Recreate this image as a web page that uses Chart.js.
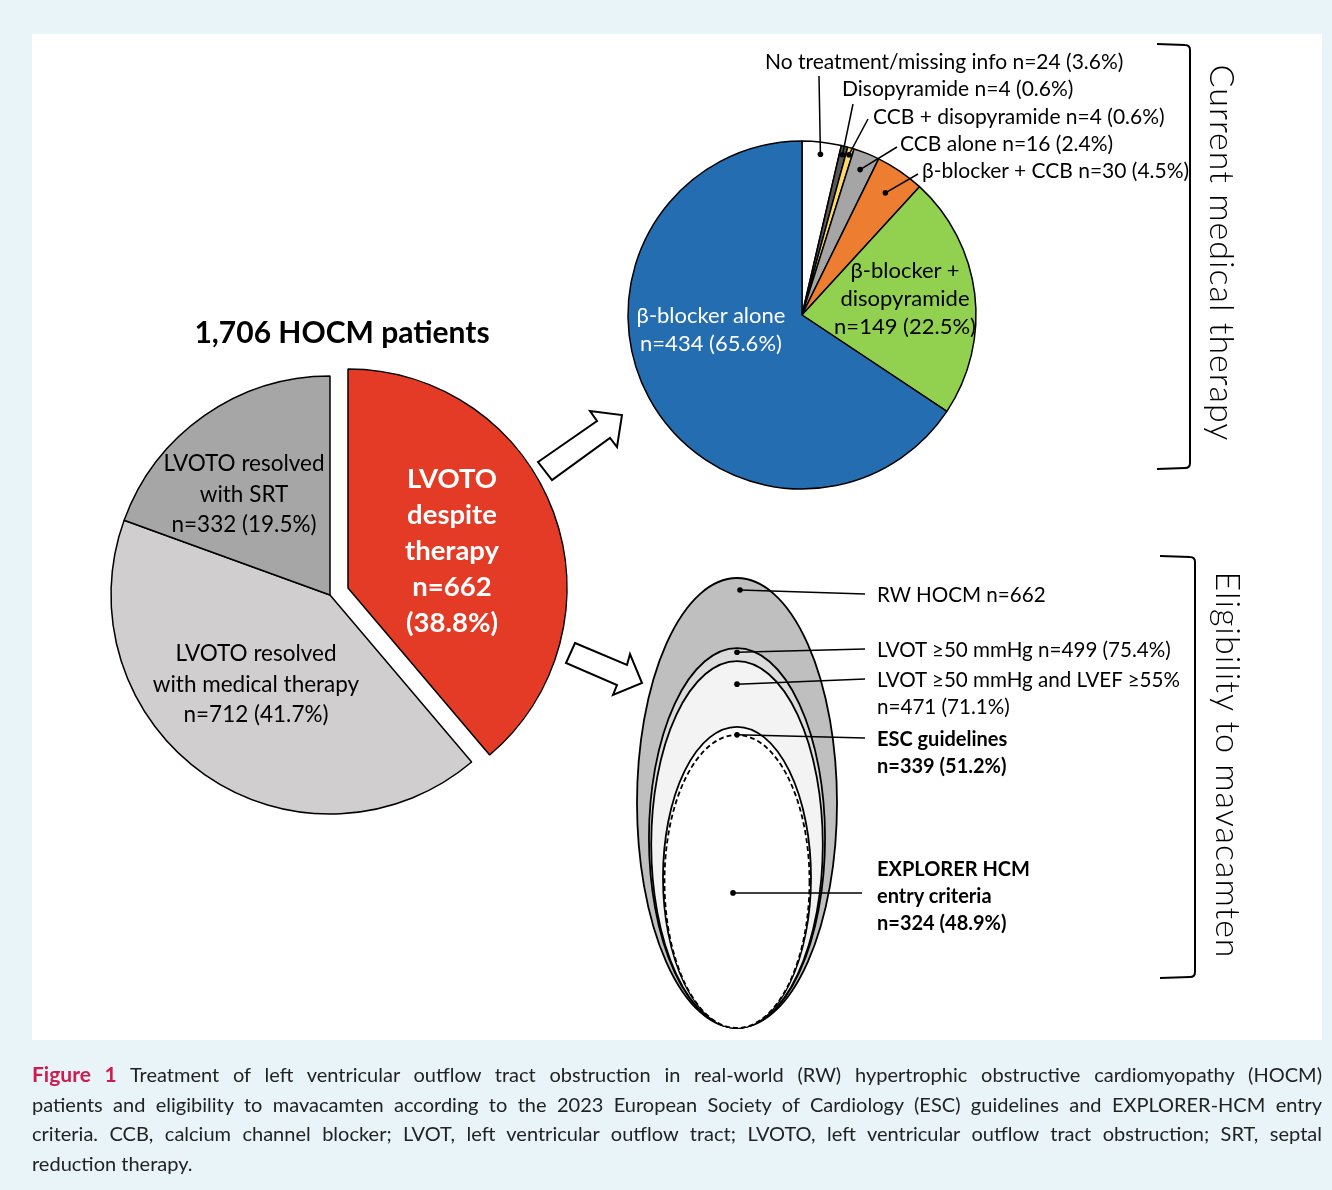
<!DOCTYPE html>
<html>
<head>
<meta charset="utf-8">
<title>HOCM treatment and mavacamten eligibility</title>
<script src="https://cdn.jsdelivr.net/npm/chart.js@4.4.1/dist/chart.umd.min.js"></script>
<style>
  body { margin:0; width:1332px; height:1190px; background:#e8f4f7; position:relative; overflow:hidden; font-family: Lato, "Open Sans", sans-serif; }
  #panel { position:absolute; left:32px; top:34px; width:1290px; height:1006px; background:#fff; }
  .chartBox { position:absolute; }
  .txt { position:absolute; white-space:nowrap; color:#000; font-size:20.6px; line-height:27px; }
  .c { transform:translate(-50%,-50%); text-align:center; }
  .l { transform:translateY(-50%); }
  .b { font-weight:bold; }
  #deco { position:absolute; left:0; top:0; }
  .side { position:absolute; font-size:34px; font-weight:300; letter-spacing:1px; white-space:nowrap; transform:translate(-50%,-50%) rotate(90deg); }
  #caption { position:absolute; left:32px; top:1059px; width:1290px; font-size:20px; line-height:29.5px; color:#222; }
  #caption div { text-align:justify; text-align-last:justify; }
  #caption div.last { text-align-last:left; }
  #caption .fig { color:#cf1b4f; font-weight:bold; font-size:21px; }
</style>
</head>
<body>
<div id="panel"></div>

<div class="chartBox" id="cohortBox" style="left:80px;top:345px;width:500px;height:500px;"><canvas id="cohortPie"></canvas></div>
<div class="chartBox" id="cohortBoxOut" style="left:80px;top:345px;width:500px;height:500px;"><canvas id="cohortPieOut"></canvas></div>
<div class="chartBox" style="left:602px;top:40px;width:400px;height:470px;"><canvas id="therapyPie"></canvas></div>
<div class="chartBox" style="left:617px;top:558px;width:280px;height:490px;"><canvas id="eligChart"></canvas></div>

<svg id="deco" width="1332" height="1190">
  <polygon points="538,462 597,421 590,411 622,415 617,447 610,438 552,480" fill="#fff" stroke="#000" stroke-width="2" stroke-linejoin="miter"/>
  <polygon points="575,643 627,665 630,654 642,683 613,695 617,685 566,663" fill="#fff" stroke="#000" stroke-width="2" stroke-linejoin="miter"/>
  <path d="M1157,44 L1185,45 Q1190,45 1190,50 L1190,463 Q1190,468 1185,468 L1157,469" fill="none" stroke="#000" stroke-width="2"/>
  <path d="M1160,556 L1190,557 Q1195,557 1195,562 L1195,972 Q1195,977 1190,977 L1160,978" fill="none" stroke="#000" stroke-width="2"/>
</svg>

<div class="side" style="left:1223px;top:253px;">Current medical therapy</div>
<div class="side" style="left:1229px;top:765px;">Eligibility to mavacamten</div>

<div id="caption">
  <div><span class="fig">Figure 1</span> Treatment of left ventricular outflow tract obstruction in real-world (RW) hypertrophic obstructive cardiomyopathy (HOCM)</div>
  <div>patients and eligibility to mavacamten according to the 2023 European Society of Cardiology (ESC) guidelines and EXPLORER-HCM entry</div>
  <div>criteria. CCB, calcium channel blocker; LVOT, left ventricular outflow tract; LVOTO, left ventricular outflow tract obstruction; SRT, septal</div>
  <div class="last">reduction therapy.</div>
</div>

<script>
// cohort of 1,706 patients
const cohortLabels = ['LVOTO despite therapy', 'LVOTO resolved with medical therapy', 'LVOTO resolved with SRT'];
const cohortCounts = [662, 712, 332];

// current medical therapy of the 662 with LVOTO
const therapyLabels = ['No treatment/missing info', 'Disopyramide', 'CCB + disopyramide', 'CCB alone', 'β-blocker + CCB', 'β-blocker + disopyramide', 'β-blocker alone'];
const therapyCounts = [24, 4, 4, 16, 30, 149, 434];

// eligibility to mavacamten (nested groups)
const eligLabels = ['RW HOCM', 'LVOT ≥50 mmHg', 'LVOT ≥50 mmHg and LVEF ≥55%', 'ESC guidelines', 'EXPLORER HCM entry criteria'];
const eligCounts = [662, 499, 471, 339, 324];

const cohortTotal = cohortCounts.reduce((a, b) => a + b, 0);
const rwTotal = cohortCounts[0];
function pct(n, tot) { return (n / tot * 100).toFixed(1) + '%'; }
function nTxt(n, tot) { return 'n=' + n + ' (' + pct(n, tot) + ')'; }

function addText(x, y, html, cls, style) {
  const d = document.createElement('div');
  d.className = 'txt ' + cls;
  d.style.left = x + 'px';
  d.style.top = y + 'px';
  d.innerHTML = html;
  if (style) Object.assign(d.style, style);
  document.body.appendChild(d);
}

const pieOpts = (r) => ({
  responsive: true,
  maintainAspectRatio: false,
  animation: false,
  events: [],
  radius: r,
  plugins: { legend: { display: false }, tooltip: { enabled: false } }
});

// ---------- left pie ----------
// grey part drawn in place, red slice drawn in a copy moved out along its mid angle
const cohortColors = ['#e33b25', '#d0cecf', '#a6a6a6'];
const explode = 19;
const redMid = cohortCounts[0] / cohortTotal * Math.PI;
const outBox = document.getElementById('cohortBoxOut');
outBox.style.left = (80 + Math.sin(redMid) * explode) + 'px';
outBox.style.top = (345 - Math.cos(redMid) * explode) + 'px';

new Chart(document.getElementById('cohortPie'), {
  type: 'pie',
  data: {
    labels: cohortLabels,
    datasets: [{
      data: cohortCounts,
      backgroundColor: cohortColors.map((c, i) => i === 0 ? 'rgba(0,0,0,0)' : c),
      borderColor: cohortColors.map((c, i) => i === 0 ? 'rgba(0,0,0,0)' : '#000'),
      borderWidth: 1.5
    }]
  },
  options: pieOpts(219)
});

new Chart(document.getElementById('cohortPieOut'), {
  type: 'pie',
  data: {
    labels: cohortLabels,
    datasets: [{
      data: cohortCounts,
      backgroundColor: cohortColors.map((c, i) => i === 0 ? c : 'rgba(0,0,0,0)'),
      borderColor: cohortColors.map((c, i) => i === 0 ? '#000' : 'rgba(0,0,0,0)'),
      borderWidth: 1.5
    }]
  },
  options: pieOpts(219)
});

addText(342, 331, cohortTotal.toLocaleString('en-US') + ' HOCM patients', 'c b', { fontSize: '30px' });
addText(244, 494, 'LVOTO resolved<br>with SRT<br>' + nTxt(cohortCounts[2], cohortTotal), 'c', { fontSize: '22.5px', lineHeight: '30.5px' });
addText(256, 684, 'LVOTO resolved<br>with medical therapy<br>' + nTxt(cohortCounts[1], cohortTotal), 'c', { fontSize: '22.5px', lineHeight: '30.5px' });
addText(452, 550, 'LVOTO<br>despite<br>therapy<br>n=' + cohortCounts[0] + '<br>(' + pct(cohortCounts[0], cohortTotal) + ')', 'c b', { fontSize: '27.5px', lineHeight: '36px', color: '#fff' });

// ---------- top right pie ----------
const therapyBox = { left: 602, top: 40 };
const leaderEnds = [[819, 76], [853, 104], [868, 119], [897, 147], [918, 174]];
const leaderDepth = [0.93, 0.95, 0.96, 0.9, 0.85];

const leaderPlugin = {
  id: 'leaders',
  afterDatasetsDraw(chart) {
    const ctx = chart.ctx;
    const arcs = chart.getDatasetMeta(0).data;
    ctx.save();
    ctx.strokeStyle = '#000';
    ctx.fillStyle = '#000';
    ctx.lineWidth = 1.5;
    leaderEnds.forEach((end, i) => {
      const a = arcs[i];
      const mid = (a.startAngle + a.endAngle) / 2;
      const r = a.outerRadius * leaderDepth[i];
      const px = a.x + Math.cos(mid) * r, py = a.y + Math.sin(mid) * r;
      ctx.beginPath();
      ctx.moveTo(px, py);
      ctx.lineTo(end[0] - therapyBox.left, end[1] - therapyBox.top);
      ctx.stroke();
      ctx.beginPath();
      ctx.arc(px, py, 2.8, 0, Math.PI * 2);
      ctx.fill();
    });
    ctx.restore();
  }
};

const therapyOpts = pieOpts(174);
therapyOpts.layout = { padding: { top: 80 } };
new Chart(document.getElementById('therapyPie'), {
  type: 'pie',
  data: {
    labels: therapyLabels,
    datasets: [{
      data: therapyCounts,
      backgroundColor: ['#ffffff', '#595959', '#ffd966', '#a5a5a5', '#ed7d31', '#92d050', '#256db1'],
      borderColor: '#000',
      borderWidth: 1.5
    }]
  },
  options: therapyOpts,
  plugins: [leaderPlugin]
});

const smallPos = [[765, 60], [842, 87], [873, 115], [900, 142], [922, 169]];
smallPos.forEach((p, i) => addText(p[0], p[1], therapyLabels[i] + ' ' + nTxt(therapyCounts[i], rwTotal), 'l', { fontSize: '21px' }));
addText(905, 298, 'β-blocker +<br>disopyramide<br>' + nTxt(therapyCounts[5], rwTotal), 'c', { fontSize: '22px', lineHeight: '28px' });
addText(711, 329, 'β-blocker alone<br>' + nTxt(therapyCounts[6], rwTotal), 'c', { fontSize: '22px', lineHeight: '28px', color: '#fff' });

// ---------- nested ellipses ----------
const eligBox = { left: 617, top: 558 };
const ellipseFills = ['#bfbfbf', '#dcdcdc', '#f3f3f3', '#ffffff', '#ffffff'];
const dotDrop = [12, 4, 23, 8, 158];
const dotShift = [3, 0, 0, 0, -4];
const eligEnds = [[865, 594], [865, 649], [865, 679], [865, 738], [862, 893]];

const ellipsePlugin = {
  id: 'ellipses',
  afterDatasetsDraw(chart) {
    const ctx = chart.ctx;
    const x = chart.scales.x, y = chart.scales.y;
    const cx = x.getPixelForValue(0);
    const base = y.getPixelForValue(0);
    const tops = [];
    eligCounts.forEach((n, i) => {
      const share = n / eligCounts[0];
      const top = y.getPixelForValue(Math.pow(share, 0.6));
      const rx = x.getPixelForValue(Math.pow(share, 0.45)) - cx;
      const ry = (base - top) / 2;
      tops.push(top);
      ctx.save();
      ctx.beginPath();
      ctx.ellipse(cx, top + ry, rx, ry, 0, 0, Math.PI * 2);
      ctx.fillStyle = ellipseFills[i];
      ctx.fill();
      ctx.lineWidth = 1.8;
      ctx.strokeStyle = '#000';
      ctx.setLineDash(i === 4 ? [5, 3] : []);
      ctx.stroke();
      ctx.restore();
    });
    ctx.save();
    ctx.lineWidth = 1.5;
    ctx.strokeStyle = '#000';
    ctx.fillStyle = '#000';
    eligEnds.forEach((end, i) => {
      const px = cx + dotShift[i], py = tops[i] + dotDrop[i];
      ctx.beginPath();
      ctx.moveTo(px, py);
      ctx.lineTo(end[0] - eligBox.left, end[1] - eligBox.top);
      ctx.stroke();
      ctx.beginPath();
      ctx.arc(px, py, 2.8, 0, Math.PI * 2);
      ctx.fill();
    });
    ctx.restore();
  }
};

new Chart(document.getElementById('eligChart'), {
  type: 'scatter',
  data: { datasets: [{ data: [] }] },
  options: {
    responsive: true,
    maintainAspectRatio: false,
    animation: false,
    events: [],
    layout: { padding: { left: 20, right: 60, top: 20, bottom: 20 } },
    scales: {
      x: { type: 'linear', min: -1, max: 1, display: false },
      y: { type: 'linear', min: 0, max: 1, display: false }
    },
    plugins: { legend: { display: false }, tooltip: { enabled: false } }
  },
  plugins: [ellipsePlugin]
});

addText(877, 594, eligLabels[0] + ' n=' + eligCounts[0], 'l');
addText(877, 649, eligLabels[1] + ' ' + nTxt(eligCounts[1], rwTotal), 'l');
addText(877, 692.5, eligLabels[2] + '<br>' + nTxt(eligCounts[2], rwTotal), 'l');
addText(877, 751.5, eligLabels[3] + '<br>' + nTxt(eligCounts[3], rwTotal), 'l b', { fontSize: '20px' });
addText(877, 895, 'EXPLORER HCM<br>entry criteria<br>' + nTxt(eligCounts[4], rwTotal), 'l b', { fontSize: '20px' });
</script>
</body>
</html>
